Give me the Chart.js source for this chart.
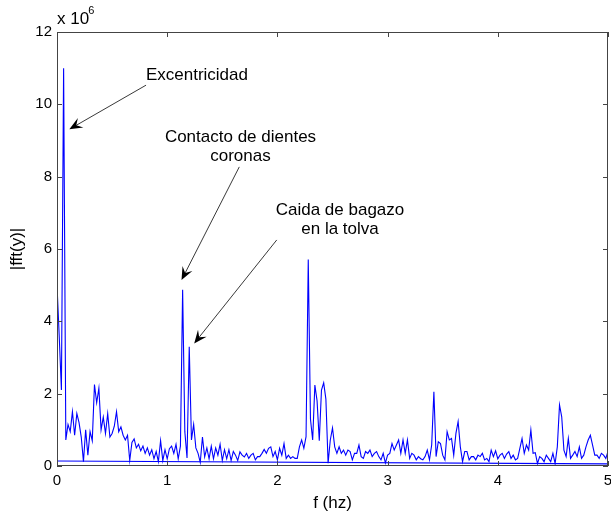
<!DOCTYPE html>
<html>
<head>
<meta charset="utf-8">
<script src="https://cdn.jsdelivr.net/npm/chart.js@4/dist/chart.umd.min.js"></script>
<style>
html,body{margin:0;padding:0;background:#fff;}
#c{display:block;}
</style>
</head>
<body>
<canvas id="c" width="611" height="515"></canvas>
<script>
// ---- data (magnitude in units of 10^6) ----
const binStepHz = 0.02;
const magnitude = [
  5.0, 3.6, 2.1, 11.0, 0.72, 1.15, 0.95, 1.5, 0.85, 1.45,
  1.2, 0.8, 0.12, 1.0, 0.3, 0.95, 0.7, 2.25, 1.75, 2.15,
  1.0, 1.35, 0.9, 1.45, 0.8, 0.9, 1.1, 1.5, 0.95, 1.08,
  0.85, 0.72, 0.85, 0.15, 0.65, 0.75, 0.5, 0.6, 0.42, 0.55,
  0.35, 0.5, 0.3, 0.45, 0.2, 0.4, 0.12, 0.7, 0.15, 0.45,
  0.2, 0.48, 0.55, 0.35, 0.6, 0.2, 0.55, 4.87, 0.95, 0.22,
  3.3, 0.72, 1.15, 0.5, 0.35, 0.1, 0.8, 0.25, 0.5, 0.2,
  0.55, 0.2, 0.5, 0.3, 0.6, 0.15, 0.45, 0.2, 0.45, 0.15,
  0.4, 0.3, 0.15, 0.39, 0.3, 0.25, 0.35, 0.21, 0.3, 0.35,
  0.17, 0.26, 0.26, 0.35, 0.46, 0.35, 0.49, 0.53, 0.26, 0.4,
  0.17, 0.49, 0.3, 0.62, 0.21, 0.3, 0.21, 0.26, 0.21, 0.21,
  0.53, 0.72, 0.49, 0.81, 5.71, 1.3, 0.72, 2.24, 1.8, 0.7,
  2.1, 2.3, 1.85, 0.08, 0.72, 1.05, 0.53, 0.35, 0.53, 0.35,
  0.44, 0.3, 0.44, 0.4, 0.17, 0.35, 0.35, 0.58, 0.26, 0.21,
  0.4, 0.35, 0.44, 0.26, 0.35, 0.4, 0.26, 0.17, 0.35, 0.08,
  0.3, 0.35, 0.62, 0.44, 0.58, 0.72, 0.35, 0.72, 0.35, 0.72,
  0.21, 0.35, 0.3, 0.17, 0.26, 0.2, 0.17, 0.26, 0.44, 0.17,
  0.58, 2.05, 0.26, 0.67, 0.62, 0.3, 0.17, 0.95, 0.72, 0.76,
  0.3, 0.9, 1.23, 0.53, 0.12, 0.4, 0.4, 0.17, 0.26, 0.26,
  0.17, 0.3, 0.26, 0.35, 0.17, 0.21, 0.12, 0.44, 0.26, 0.42,
  0.2, 0.3, 0.35, 0.21, 0.33, 0.4, 0.21, 0.3, 0.17, 0.21,
  0.49, 0.76, 0.35, 0.58, 0.44, 1.0, 0.35, 0.37, 0.07, 0.26,
  0.21, 0.12, 0.3, 0.21, 0.12, 0.35, 0.07, 0.53, 1.69, 1.36,
  0.44, 0.26, 0.76, 0.21, 0.3, 0.4, 0.26, 0.53, 0.21, 0.3,
  0.53, 0.72, 0.85, 0.58, 0.3, 0.3, 0.21, 0.35, 0.3, 0.21,
  0.4
];
const frequency = magnitude.map((_, i) => Math.round(i * binStepHz * 100) / 100);
// closing segment drawn back across the bottom of the plot
const baseFreq = [5, 0];
const baseMag = [0.06, 0.14];

const xTicks = [0, 1, 2, 3, 4, 5];
const yTicks = [0, 2, 4, 6, 8, 10, 12];
const xTitle = 'f (hz)';
const yTitle = '|fft(y)|';
const yExponent = '6';

// annotations (data coordinates)
const annoLines = [['Excentricidad'], ['Contacto de dientes', 'coronas'], ['Caida de bagazo', 'en la tolva']];
const annoF = [1.27, 1.665, 2.568];
const annoV = [10.81, 9.10, 7.08];
const arrowFromF = [0.808, 1.654, 1.994];
const arrowFromV = [10.53, 8.27, 6.25];
const arrowToF = [0.112, 1.13, 1.245];
const arrowToV = [9.31, 5.14, 3.39];

const FONT = 'Arial, "Liberation Sans", Helvetica, sans-serif';
const BLUE = '#0000ff';
const AXIS = '#444';

const mainPts = frequency.map((f, i) => ({x: f, y: magnitude[i]}));
const basePts = baseFreq.map((f, i) => ({x: f, y: baseMag[i]}));

const decorPlugin = {
  id: 'decor',
  beforeDraw(chart) {
    const ctx = chart.ctx;
    ctx.save();
    ctx.fillStyle = '#fff';
    ctx.fillRect(0, 0, chart.width, chart.height);
    ctx.restore();
  },
  afterDatasetsDraw(chart) {
    const ctx = chart.ctx;
    const xs = chart.scales.x, ys = chart.scales.y;
    const a = chart.chartArea;
    ctx.save();
    // box
    ctx.strokeStyle = AXIS;
    ctx.lineWidth = 1;
    ctx.strokeRect(Math.round(a.left) + 0.5, Math.round(a.top) + 0.5,
      Math.round(a.right - a.left) - 1, Math.round(a.bottom - a.top) - 1);
    // inward ticks
    const tl = 5;
    ctx.beginPath();
    xTicks.forEach(v => {
      const px = Math.round(xs.getPixelForValue(v)) + 0.5;
      ctx.moveTo(px, a.bottom); ctx.lineTo(px, a.bottom - tl);
      ctx.moveTo(px, a.top); ctx.lineTo(px, a.top + tl);
    });
    yTicks.forEach(v => {
      const py = Math.round(ys.getPixelForValue(v)) + 0.5;
      ctx.moveTo(a.left, py); ctx.lineTo(a.left + tl, py);
      ctx.moveTo(a.right, py); ctx.lineTo(a.right - tl, py);
    });
    ctx.stroke();

    // axis titles
    ctx.fillStyle = '#000';
    ctx.font = '17px ' + FONT;
    ctx.textAlign = 'center';
    ctx.textBaseline = 'middle';
    ctx.fillText(xTitle, (a.left + a.right) / 2, a.bottom + 37);
    ctx.save();
    ctx.translate(17, (a.top + a.bottom) / 2);
    ctx.rotate(-Math.PI / 2);
    ctx.fillText(yTitle, 0, 0);
    ctx.restore();
    // exponent
    ctx.textAlign = 'left';
    ctx.font = '17px ' + FONT;
    ctx.fillText('x 10', a.left, a.top - 13);
    const w = ctx.measureText('x 10').width;
    ctx.font = '11px ' + FONT;
    ctx.fillText(yExponent, a.left + w - 1, a.top - 21);

    // annotations
    ctx.font = '17px ' + FONT;
    ctx.textAlign = 'center';
    annoLines.forEach((lines, k) => {
      const px = xs.getPixelForValue(annoF[k]);
      const py = ys.getPixelForValue(annoV[k]);
      lines.forEach((t, j) => ctx.fillText(t, px, py + j * 19.5));
    });
    // arrows
    ctx.strokeStyle = '#222';
    ctx.fillStyle = '#000';
    ctx.lineWidth = 0.9;
    arrowFromF.forEach((_, k) => {
      const x0 = xs.getPixelForValue(arrowFromF[k]), y0 = ys.getPixelForValue(arrowFromV[k]);
      const x1 = xs.getPixelForValue(arrowToF[k]), y1 = ys.getPixelForValue(arrowToV[k]);
      const ang = Math.atan2(y1 - y0, x1 - x0);
      const L = 13, W = 5.5, N = 8;
      const ux = Math.cos(ang), uy = Math.sin(ang);
      const nx = -uy, ny = ux;
      ctx.beginPath();
      ctx.moveTo(x0, y0);
      ctx.lineTo(x1 - ux * N, y1 - uy * N);
      ctx.stroke();
      ctx.beginPath();
      ctx.moveTo(x1, y1);
      ctx.lineTo(x1 - ux * L + nx * W, y1 - uy * L + ny * W);
      ctx.lineTo(x1 - ux * N, y1 - uy * N);
      ctx.lineTo(x1 - ux * L - nx * W, y1 - uy * L - ny * W);
      ctx.closePath();
      ctx.fill();
    });
    ctx.restore();
  }
};

new Chart(document.getElementById('c'), {
  type: 'scatter',
  data: {
    datasets: [
      {data: mainPts, showLine: true, borderColor: BLUE, borderWidth: 1.1, pointRadius: 0, tension: 0},
      {data: basePts, showLine: true, borderColor: BLUE, borderWidth: 1.1, pointRadius: 0, tension: 0}
    ]
  },
  options: {
    responsive: false,
    animation: false,
    events: [],
    layout: {padding: {top: 32, right: 3, left: 0, bottom: 0}},
    plugins: {legend: {display: false}, tooltip: {enabled: false}},
    scales: {
      x: {
        type: 'linear', min: 0, max: 5,
        grid: {display: false, drawTicks: false},
        border: {display: false},
        afterBuildTicks(s) { s.ticks = xTicks.map(v => ({value: v})); },
        ticks: {color: '#000', padding: 6, font: {size: 15, family: FONT}, maxRotation: 0},
        afterFit(s) { s.height = 49; s.paddingLeft = 0; s.paddingRight = 0; }
      },
      y: {
        type: 'linear', min: 0, max: 12,
        grid: {display: false, drawTicks: false},
        border: {display: false},
        afterBuildTicks(s) { s.ticks = yTicks.map(v => ({value: v})); },
        ticks: {color: '#000', padding: 5, font: {size: 15, family: FONT}},
        afterFit(s) { s.width = 57; s.paddingTop = 0; s.paddingBottom = 0; }
      }
    }
  },
  plugins: [decorPlugin]
});
</script>
</body>
</html>
